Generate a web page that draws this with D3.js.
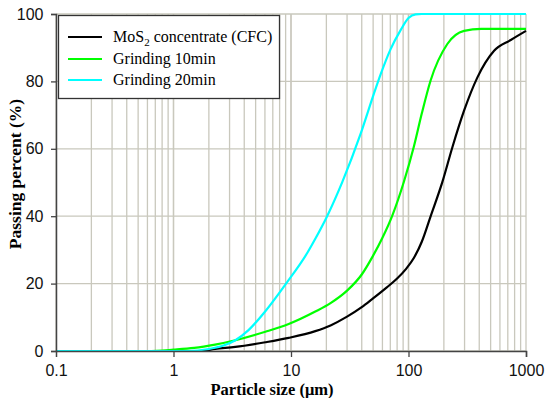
<!DOCTYPE html>
<html>
<head>
<meta charset="utf-8">
<script src="https://cdn.jsdelivr.net/npm/d3@7"></script>
<style>
  body { margin: 0; background: #fff; }
  svg { display: block; }
</style>
</head>
<body>
<div id="chart"></div>
<script>
// ===== PARTICLE SIZE DISTRIBUTION =====

const seriesNames = ['MoS2 concentrate (CFC)', 'Grinding 10min', 'Grinding 20min'];
const seriesColors = ['#000000', '#00ff00', '#00ffff'];

// [size µm, passing %]
const cfcValues = [
  [0.1, 0], [1.7, 0], [2.26, 0.6], [3.36, 1.2], [6.05, 2.6], [9.55, 3.9], [16.1, 5.9],
  [21.7, 7.6], [30, 10.2], [40, 13.0], [49.1, 15.4], [65, 18.8], [80, 21.5], [95, 24.3],
  [111, 27.6], [130, 32.5], [154, 39.9], [194, 50.1], [236, 60.4], [297, 71.3],
  [386, 81.2], [535, 89.1], [742, 92.3], [1000, 95]
];
const grind10Values = [
  [0.1, 0], [0.6, 0], [1, 0.4], [1.5, 0.9], [2.26, 1.9], [3.36, 3.2], [6.05, 5.7],
  [9.55, 8.0], [16.1, 11.7], [21.7, 14.2], [30, 17.9], [40, 22.7], [50, 28.3], [60, 33.6],
  [72.8, 40.2], [91.5, 50.3], [111, 60.6], [130, 70.6], [154, 80.2], [214, 91.1],
  [297, 95], [415, 95.6], [1000, 95.6]
];
const grind20Values = [
  [0.1, 0], [1.3, 0], [2, 0.6], [2.7, 1.7], [3.36, 3.2], [4.35, 6.2], [6.05, 11.8],
  [9.08, 20], [13.7, 29], [16.1, 33.3], [20.3, 40], [27.3, 50.1], [39.1, 64.4],
  [50.7, 76.3], [57.8, 82], [70.3, 89.5], [85.7, 95.2], [100, 98.8], [115, 99.9],
  [130, 100], [1000, 100]
];
const seriesValues = [cfcValues, grind10Values, grind20Values];

const xTicks = [0.1, 1, 10, 100, 1000];
const xTickLabels = ['0.1', '1', '10', '100', '1000'];
const yTicks = [0, 20, 40, 60, 80, 100];

const width = 550, height = 398;
const margin = { left: 56, right: 24, top: 14, bottom: 47 };

const svg = d3.select('#chart').append('svg')
  .attr('width', width)
  .attr('height', height);

const x = d3.scaleLog()
  .domain([0.1, 1000])
  .range([margin.left, width - margin.right]);

const y = d3.scaleLinear()
  .domain([0, 100])
  .range([height - margin.bottom, margin.top]);

// minor grid 2..9 in each decade, plus decades
const gridX = [];
for (let d = 0.1; d < 1000; d *= 10) {
  for (let k = 1; k <= 10; k++) gridX.push(+(d * k).toPrecision(3));
}

const grid = svg.append('g').attr('stroke', '#c9c8bd').attr('stroke-width', 1.3);
grid.selectAll('line.gx')
  .data(gridX)
  .join('line')
  .attr('class', 'gx')
  .attr('x1', d => x(d)).attr('x2', d => x(d))
  .attr('y1', y(0)).attr('y2', y(100));
grid.selectAll('line.gy')
  .data(yTicks)
  .join('line')
  .attr('class', 'gy')
  .attr('x1', x(0.1)).attr('x2', x(1000))
  .attr('y1', d => y(d)).attr('y2', d => y(d));

// curves
const line = d3.line()
  .x(d => x(d[0]))
  .y(d => y(d[1]))
  .curve(d3.curveMonotoneX);

svg.append('g')
  .selectAll('path')
  .data(seriesValues)
  .join('path')
  .attr('d', line)
  .attr('fill', 'none')
  .attr('stroke', (d, i) => seriesColors[i])
  .attr('stroke-width', 2.2);

// axes
const xAxis = svg.append('g')
  .attr('transform', `translate(0,${y(0)})`)
  .call(d3.axisBottom(x).tickValues(xTicks).tickFormat((d, i) => xTickLabels[i]).tickSize(6).tickPadding(8));
const yAxis = svg.append('g')
  .attr('transform', `translate(${x(0.1)},0)`)
  .call(d3.axisLeft(y).tickValues(yTicks).tickSize(5).tickPadding(7.5));

[xAxis, yAxis].forEach(a => {
  a.select('.domain').attr('stroke', '#444').attr('stroke-width', 1.5);
  a.selectAll('.tick line').attr('stroke', '#444').attr('stroke-width', 1.3);
  a.selectAll('text')
    .attr('fill', '#111')
    .style('font-family', '"Liberation Sans", Arial, sans-serif')
    .style('font-size', '16px');
});
xAxis.selectAll('.tick line').filter(d => d === 0.1).attr('stroke', 'none');

// axis titles
svg.append('text')
  .attr('x', 272)
  .attr('y', 395)
  .attr('text-anchor', 'middle')
  .style('font-family', '"Liberation Serif", "Times New Roman", serif')
  .style('font-weight', 'bold')
  .style('font-size', '16.5px')
  .text('Particle size (μm)');

svg.append('text')
  .attr('transform', 'translate(21,174) rotate(-90)')
  .attr('text-anchor', 'middle')
  .style('font-family', '"Liberation Serif", "Times New Roman", serif')
  .style('font-weight', 'bold')
  .style('font-size', '17.5px')
  .text('Passing percent (%)');

// legend
const legend = svg.append('g');
legend.append('rect')
  .attr('x', 58.5).attr('y', 15.5)
  .attr('width', 221).attr('height', 83)
  .attr('fill', '#fff')
  .attr('stroke', '#333')
  .attr('stroke-width', 1.3);

const rowY = [37, 59, 80];
seriesNames.forEach((name, i) => {
  legend.append('line')
    .attr('x1', 68).attr('x2', 102)
    .attr('y1', rowY[i]).attr('y2', rowY[i])
    .attr('stroke', seriesColors[i])
    .attr('stroke-width', 2.2);
  const t = legend.append('text')
    .attr('x', 113).attr('y', rowY[i] + 5)
    .style('font-family', '"Liberation Serif", "Times New Roman", serif')
    .style('font-size', '16px');
  if (i === 0) {
    t.append('tspan').text('MoS');
    t.append('tspan').attr('dy', 4).style('font-size', '11px').text('2');
    t.append('tspan').attr('dy', -4).text(' concentrate (CFC)');
  } else {
    t.text(name);
  }
});
</script>
</body>
</html>
